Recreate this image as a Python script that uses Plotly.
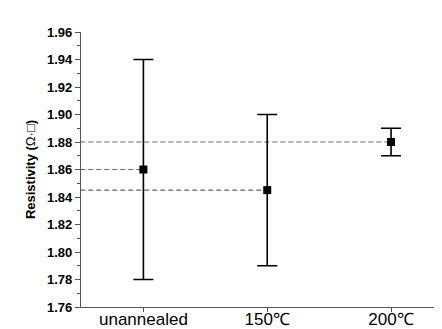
import plotly.graph_objects as go

categories = ["unannealed", "150℃", "200℃"]
resistivity = [1.86, 1.845, 1.88]
err_upper = [0.08, 0.055, 0.01]
err_lower = [0.08, 0.055, 0.01]
y_ticks = [1.76, 1.78, 1.80, 1.82, 1.84, 1.86, 1.88, 1.90, 1.92, 1.94, 1.96]

xpos = list(range(len(categories)))

fig = go.Figure()

# dashed reference lines from axis to each point
for xi, yi in zip(xpos, resistivity):
    fig.add_trace(go.Scatter(
        x=[-0.51, xi], y=[yi, yi], mode="lines",
        line=dict(color="#666666", width=1.2, dash="5px,3px"),
        hoverinfo="skip", showlegend=False))

fig.add_trace(go.Scatter(
    x=xpos, y=resistivity, mode="markers",
    marker=dict(symbol="square", size=8, color="black"),
    error_y=dict(type="data", symmetric=False, array=err_upper,
                 arrayminus=err_lower, color="black", thickness=1.6, width=10),
    showlegend=False))

axis_color = "#555555"
fig.update_layout(
    width=442, height=329,
    margin=dict(l=73, r=1, t=24, b=29.5),
    paper_bgcolor="white", plot_bgcolor="white",
    font=dict(family="Arial, Liberation Sans, sans-serif", color="black"),
    xaxis=dict(
        range=[-0.504, 2.468], tickmode="array", tickvals=xpos, ticktext=categories,
        showgrid=False, zeroline=False, showline=True, linecolor=axis_color, linewidth=1.2,
        ticks="outside", ticklen=4, tickcolor=axis_color, tickwidth=1,
        tickfont=dict(size=17, color="black"),
        ticklabelstandoff=-8,
    ),
    yaxis=dict(
        range=[1.76, 1.96], tickmode="array", tickvals=y_ticks,
        ticktext=[f"<b>{v:.2f}</b>" for v in y_ticks],
        showgrid=False, zeroline=False, showline=True, linecolor=axis_color, linewidth=1.2,
        ticks="outside", ticklen=5, tickcolor=axis_color, tickwidth=1,
        tickfont=dict(size=13, color="black"),
        minor=dict(ticks="outside", ticklen=3, tickcolor=axis_color, dtick=0.01, tick0=1.76),
        title=dict(text="<b>Resistivity (</b>Ω·□<b>)</b>", font=dict(size=13, color="black"), standoff=8),
    ),
)

fig.write_html("out.html")
